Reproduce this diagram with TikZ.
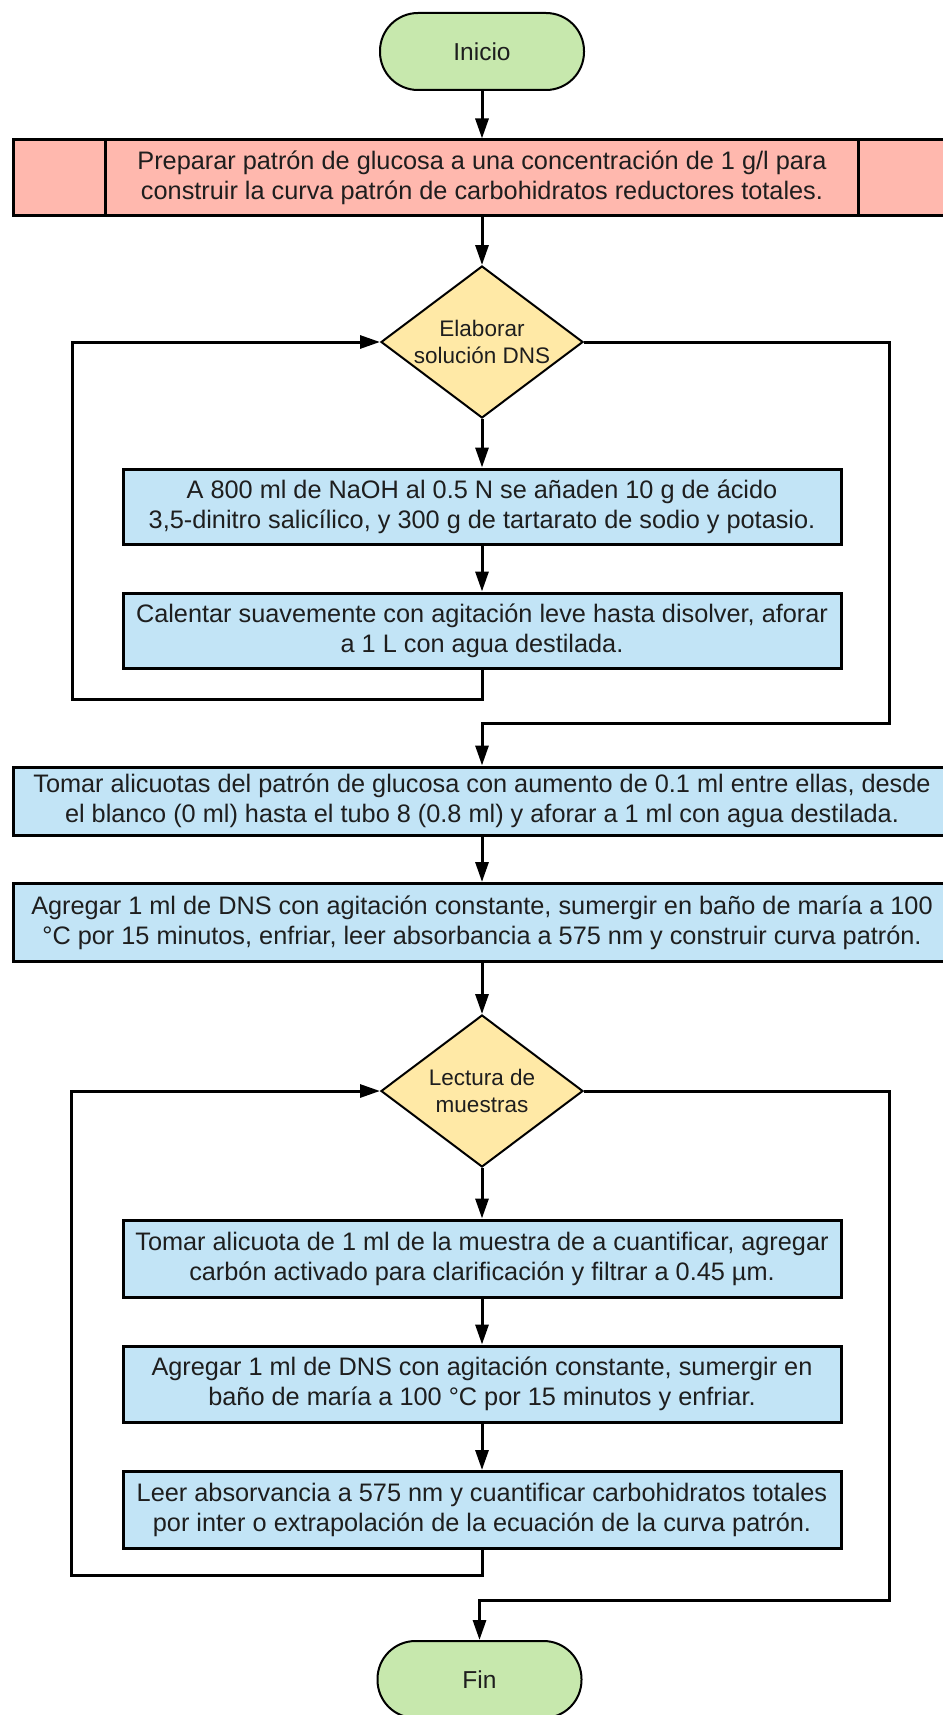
\documentclass[tikz,border=0pt]{standalone}
\usepackage{fontspec}
\setmainfont{Liberation Sans}
\usetikzlibrary{shapes.geometric,arrows.meta}
\definecolor{cgreen}{HTML}{C7E8AD}
\definecolor{cred}{HTML}{FFB8AE}
\definecolor{cyel}{HTML}{FFE9A6}
\definecolor{cblue}{HTML}{C2E4F6}
\definecolor{ctext}{HTML}{1E1E1E}
\begin{document}
\begin{tikzpicture}[x=1pt,y=-1pt,
  term/.style={draw=black,line width=2pt,fill=cgreen,rounded corners=38pt,minimum width=204pt,minimum height=77pt,inner sep=0pt,font=\fontsize{24.5}{29}\selectfont,text=ctext},
  proc/.style={draw=black,line width=3pt,fill=cblue,inner sep=0pt,align=center,font=\fontsize{25.3}{30}\selectfont,text=ctext},
  dec/.style={diamond,draw=black,line width=2pt,fill=cyel,minimum width=202pt,minimum height=152pt,inner sep=-20pt,align=center,font=\fontsize{22.5}{27}\selectfont,text=ctext},
  conn/.style={line width=3pt,-{Triangle[length=20pt,width=13pt]}},
  ]
\useasboundingbox (0,0) rectangle (942,1715);
\fill[white] (0,0) rectangle (942,1715);

\node[term] (inicio) at (482,51.5) {Inicio};
\node[proc,fill=cred,minimum width=938pt,minimum height=75pt] (prep) at (482,177.5)
  {Preparar patrón de glucosa a una concentración de 1 g/l para\\construir la curva patrón de carbohidratos reductores totales.};
\draw[line width=3pt] ([xshift=94pt]prep.north west) -- ([xshift=94pt]prep.south west);
\draw[line width=3pt] ([xshift=847pt]prep.north west) -- ([xshift=847pt]prep.south west);

\node[dec] (d1) at (482,342) {Elaborar\\solución DNS};
\node[proc,minimum width=718pt,minimum height=75pt] (a1) at (482,506.5)
  {A 800 ml de NaOH al 0.5 N se añaden 10 g de ácido\\3,5-dinitro salicílico, y 300 g de tartarato de sodio y potasio.};
\node[proc,minimum width=718pt,minimum height=75pt] (a2) at (482,630.5)
  {Calentar suavemente con agitación leve hasta disolver, aforar\\a 1 L con agua destilada.};

\node[proc,minimum width=938pt,minimum height=68pt] (toma) at (482,801)
  {Tomar alicuotas del patrón de glucosa con aumento de 0.1 ml entre ellas, desde\\el blanco (0 ml) hasta el tubo 8 (0.8 ml) y aforar a 1 ml con agua destilada.};
\node[proc,minimum width=938pt,minimum height=78pt] (agr) at (482,922.5)
  {Agregar 1 ml de DNS con agitación constante, sumergir en baño de maría a 100\\°C por 15 minutos, enfriar, leer absorbancia a 575 nm y construir curva patrón.};

\node[dec] (d2) at (482,1091) {Lectura de\\muestras};
\node[proc,minimum width=718pt,minimum height=77pt] (m1) at (482,1258.5)
  {Tomar alicuota de 1 ml de la muestra de a cuantificar, agregar\\carbón activado para clarificación y filtrar a 0.45 µm.};
\node[proc,minimum width=718pt,minimum height=76pt] (m2) at (482,1384)
  {Agregar 1 ml de DNS con agitación constante, sumergir en\\baño de maría a 100 °C por 15 minutos y enfriar.};
\node[proc,minimum width=718pt,minimum height=77pt] (m3) at (482,1510)
  {Leer absorvancia a 575 nm y cuantificar carbohidratos totales\\por inter o extrapolación de la ecuación de la curva patrón.};

\node[term] (fin) at (479.5,1679.5) {Fin};

\draw[conn] (inicio.south) -- (prep.north);
\draw[conn] (prep.south) -- (d1.north);
\draw[conn] (d1.south) -- (a1.north);
\draw[conn] (a1.south) -- (a2.north);
\coordinate (l1) at (72,699);
\draw[conn] (a2.south) |- (l1) |- (d1.west);
\coordinate (r1) at (889,723);
\draw[conn] (d1.east) -| (r1) -| (toma.north);
\draw[conn] (toma.south) -- (agr.north);
\draw[conn] (agr.south) -- (d2.north);
\draw[conn] (d2.south) -- (m1.north);
\draw[conn] (m1.south) -- (m2.north);
\draw[conn] (m2.south) -- (m3.north);
\coordinate (l2) at (71,1575);
\draw[conn] (m3.south) |- (l2) |- (d2.west);
\coordinate (r2) at (889,1600);
\draw[conn] (d2.east) -| (r2) -| (fin.north);
\end{tikzpicture}
\end{document}
